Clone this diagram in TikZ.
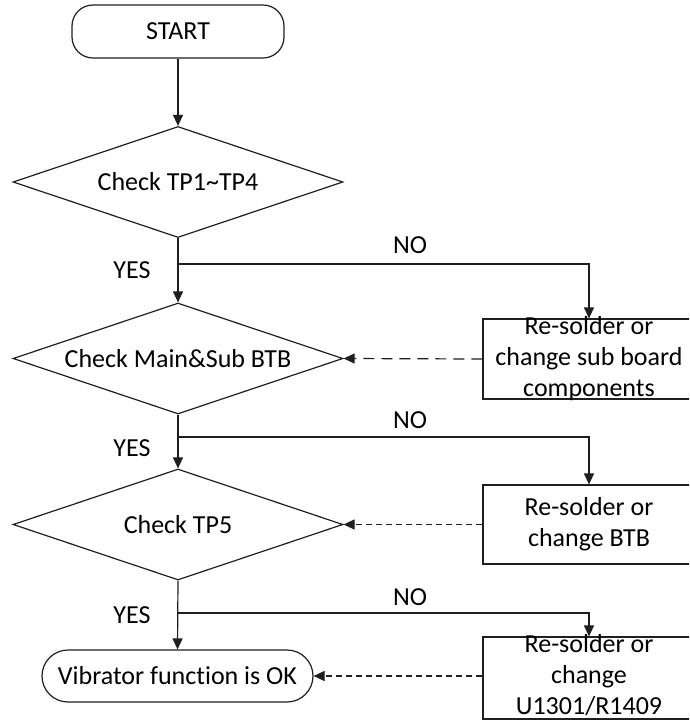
\documentclass[tikz,border=0pt]{standalone}
\usepackage{fontspec}
\setmainfont[Ligatures=NoCommon]{Carlito}
\usetikzlibrary{shapes.geometric,arrows.meta}
\begin{document}
\begin{tikzpicture}[x=1pt,y=-1pt,
  every node/.style={font=\fontsize{26}{31}\selectfont},
  line/.style={draw=black!88,line width=1.2pt},
  flow/.style={line,-{Triangle[length=11pt,width=10pt]}},
  dflow/.style={flow,dash pattern=on 11pt off 7pt},
  dflowfine/.style={flow,dash pattern=on 6pt off 4pt},
  term/.style={line,rectangle,rounded corners=#1,inner sep=0pt},
  decision/.style={line,diamond,aspect=2.97,minimum width=330pt,minimum height=111pt,inner sep=0pt},
  fixbox/.style={line,rectangle,minimum width=212pt,inner sep=0pt},
  boxtext/.style={align=center,inner sep=0pt},
  lbl/.style={inner sep=0pt}]
  \useasboundingbox (0,0) rectangle (689,721);
  \fill[white] (0,0) rectangle (689,721);
  \clip (0,0) rectangle (689,721);

  % main column
  \node[term=21pt,minimum width=212pt,minimum height=53pt] (start) at (178,31.5) {START};
  \node[decision] (d1) at (178,182) {Check TP1\char`~TP4};
  \node[decision] (d2) at (178,358.5) {Check Main\&Sub BTB};
  \node[decision] (d3) at (178,524.5) {Check TP5};
  \node[term=26pt,minimum width=271pt,minimum height=52pt] (ok) at (177.5,676) {Vibrator function is OK};

  % repair boxes (right edge runs past the page)
  \node[fixbox,minimum height=80pt] (b1) at (589,359) {};
  \node[boxtext] (b1t) at (b1.center) {Re-solder or\\change sub board\\components};
  \node[fixbox,minimum height=79pt] (b2) at (589,524.5) {};
  \node[boxtext] (b2t) at (b2.center) {Re-solder or\\change BTB};
  \node[fixbox,minimum height=82pt] (b3) at (589,678) {};
  \node[boxtext] (b3t) at (589,675) {Re-solder or\\change\\U1301/R1409};

  % branch points
  \coordinate (j1) at (178,264);
  \coordinate (j2) at (178,437);
  \coordinate (j3) at (178,613);

  % vertical flow
  \draw[flow] (start.south) -- (d1.north);
  \draw[flow] (d1.south) -- (d2.north);
  \draw[flow] (d2.south) -- (d3.north);
  \draw[flow] (d3.south) -- (ok.north);

  % NO branches
  \draw[flow] (j1) -| (b1.north);
  \draw[flow] (j2) -| (b2.north);
  \draw[flow] (j3) -| (b3.north);

  % return paths
  \draw[dflow] (b1.west) -- (d2.east);
  \draw[dflowfine] (b2.west) -- (d3.east);
  \draw[dflowfine] (ok.east -| b3.west) -- (ok.east);

  % labels
  \node[lbl] (y1) at (132,270) {YES};
  \node[lbl] (y2) at (132,448) {YES};
  \node[lbl] (y3) at (132,615) {YES};
  \node[lbl] (n1) at (410,245) {NO};
  \node[lbl] (n2) at (410,420) {NO};
  \node[lbl] (n3) at (410,597) {NO};
\end{tikzpicture}
\end{document}
